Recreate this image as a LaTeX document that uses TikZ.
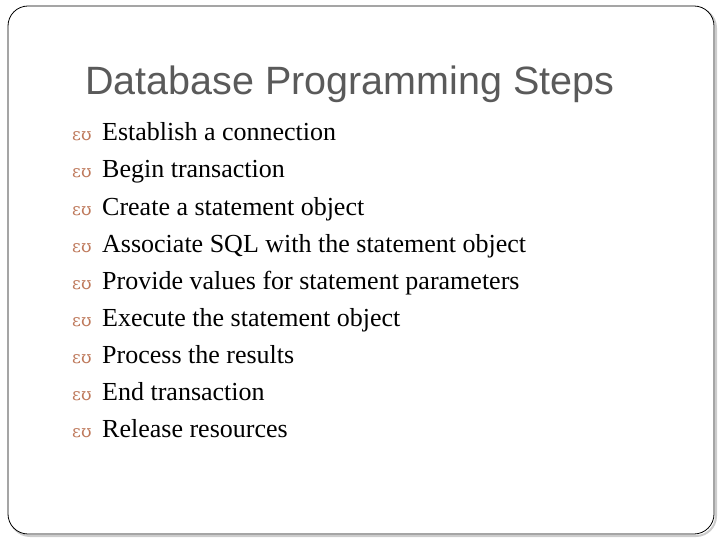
\documentclass[tikz,border=0pt]{standalone}
\usepackage{fontspec}
\setmainfont{Liberation Serif}
\newfontfamily\titlefont{Liberation Sans}
\newfontfamily\bulfont{DejaVu Serif}
\definecolor{bul}{RGB}{190,120,90}
\definecolor{ttl}{RGB}{90,90,90}
\begin{document}
\begin{tikzpicture}[x=1pt,y=-1pt,
  item/.style={anchor=base west,inner sep=0pt,font=\fontsize{26}{26}\selectfont},
  bull/.style={anchor=base west,inner sep=0pt,text=bul,font=\bulfont\fontsize{17}{17}\selectfont}]
\useasboundingbox (0,0) rectangle (720,540);
\draw[line width=2pt,gray!40,rounded corners=20pt] (10,8) rectangle (716,536);
\draw[line width=0.8pt,fill=white,rounded corners=20pt] (8,6) rectangle (714,534);
\node[anchor=base west,inner sep=0pt,text=ttl,font=\titlefont\fontsize{39.5}{39.5}\selectfont] (t) at (85,95) {Database Programming Steps};
\foreach \i/\s in {0/Establish a connection,1/Begin transaction,2/Create a statement object,3/Associate SQL with the statement object,4/Provide values for statement parameters,5/Execute the statement object,6/Process the results,7/End transaction,8/Release resources}{
  \node[bull] (b\i) at (72,{141+37*\i}) {ɛʊ};
  \node[item] (i\i) at (102,{141+37*\i}) {\s};
}
\end{tikzpicture}
\end{document}
